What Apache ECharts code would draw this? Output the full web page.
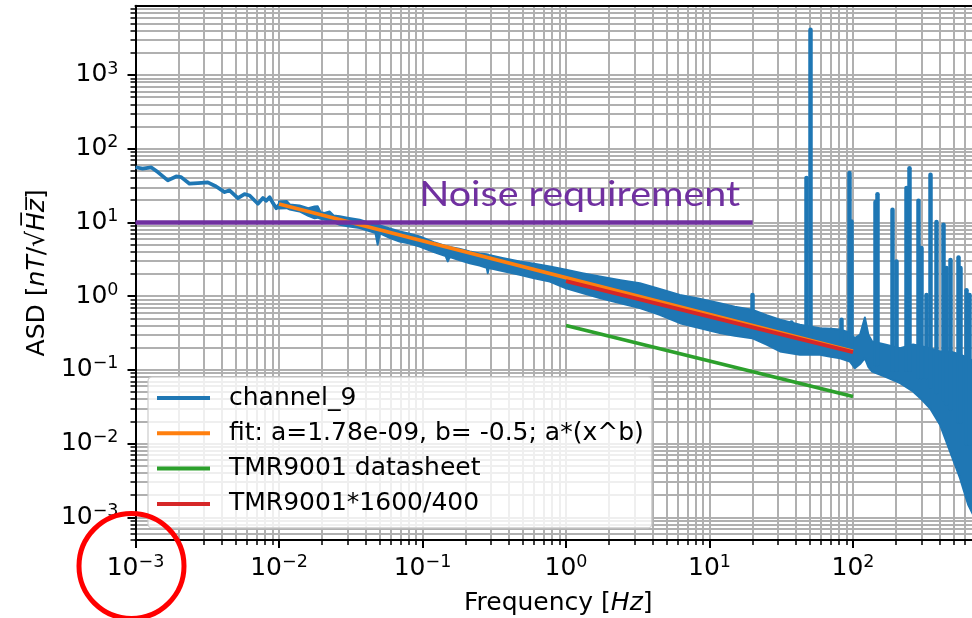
<!DOCTYPE html>
<html>
<head>
<meta charset="utf-8">
<script src="https://cdn.jsdelivr.net/npm/echarts@6/dist/echarts.min.js"></script>
<style>
  html, body { margin: 0; padding: 0; background: #ffffff; }
  #chart { width: 972px; height: 618px; }
</style>
</head>
<body>
<div id="chart"></div>
<script>
// channel_9 amplitude spectral density, nT/√Hz, below 10 mHz (sparse bins)
const lowFreq = [0.001, 0.00112, 0.00129, 0.00143, 0.00168, 0.00192, 0.00208, 0.00238, 0.00272, 0.00319,
  0.00365, 0.00418, 0.00452, 0.00517, 0.00575, 0.00624, 0.00713, 0.00773, 0.00815, 0.0086, 0.00907, 0.00957, 0.0101];
const lowAsd = [56, 53.6, 55.7, 48.2, 37.2, 42, 41.2, 33.5, 34.1, 34.9,
  30.7, 25.8, 27.2, 21.4, 24.2, 23.2, 17.9, 21.4, 19.7, 22, 18.3, 15.6, 17.7];

// channel_9 above 10 mHz: dense bins, kept as upper / lower envelope of the trace
const bandFreq = [0.0100, 0.0113, 0.0119, 0.0139, 0.0160, 0.0177, 0.0186, 0.0195, 0.0208, 0.0225,
  0.0240, 0.0265, 0.0300, 0.0365, 0.0420, 0.0470, 0.0487, 0.0505, 0.0600, 0.0693,
  0.0800, 0.0956, 0.120, 0.145, 0.150, 0.155, 0.180, 0.2134, 0.250, 0.280,
  0.285, 0.290, 0.360, 0.4763, 0.600, 0.771, 1.0, 1.30, 1.72, 2.4,
  3.27, 4.5, 6.22, 8.5, 11.8, 15.0, 19.8, 25.0, 31.0, 42.7,
  58.9, 70.0, 81.2, 95.0, 103, 112, 121, 128, 136, 167,
  213, 262, 300, 344, 404, 475, 557, 634, 800];
const bandUpper = [19.3, 19.6, 17.5, 17.0, 15.6, 16.5, 16.6, 13.8, 13.4, 14.1,
  12.4, 12.1, 11.6, 10.9, 10.0, 9.4, 9.3, 9.1, 8.2, 7.55,
  7.1, 6.46, 5.4, 4.8, 4.72, 4.65, 4.4, 4.04, 3.8, 3.7,
  3.68, 3.62, 3.3, 2.96, 2.75, 2.53, 2.28, 2.05, 1.85, 1.65,
  1.50, 1.25, 1.04, 0.92, 0.804, 0.72, 0.653, 0.55, 0.48, 0.409,
  0.368, 0.36, 0.353, 0.32, 0.269, 0.30, 0.514, 0.30, 0.243, 0.221,
  0.197, 0.221, 0.21, 0.197, 0.178, 0.178, 0.162, 0.144, 0.111];
const bandLower = [15.5, 15.6, 15.0, 14.1, 12.3, 11.4, 11.6, 11.2, 10.9, 10.6,
  10.0, 9.3, 8.9, 8.4, 7.7, 7.2, 5.0, 7.1, 6.1, 5.52,
  5.2, 4.72, 3.95, 3.5, 2.96, 3.4, 3.1, 2.80, 2.6, 2.42,
  2.05, 2.4, 2.2, 1.95, 1.75, 1.58, 1.28, 1.1, 0.94, 0.80,
  0.688, 0.56, 0.43, 0.37, 0.315, 0.29, 0.269, 0.22, 0.178, 0.160,
  0.160, 0.15, 0.144, 0.13, 0.1055, 0.12, 0.144, 0.11, 0.095, 0.0813,
  0.066, 0.0509, 0.040, 0.0302, 0.018, 0.0078, 0.0034, 0.00149, 0.0006];

// Narrow spectral lines (mains harmonics and others): frequency, foot, peak
const lineFreq = [20, 37.3, 47.2, 50, 83.3, 94.2, 97.9, 142, 147.7, 189,
  200, 234, 247, 285, 301, 326, 348, 379, 426, 450,
  475, 542, 560, 614, 650];
const lineFoot = [0.5, 0.3, 0.2, 0.2, 0.25, 0.15, 0.15, 0.12, 0.12, 0.1,
  0.1, 0.1, 0.1, 0.08, 0.08, 0.08, 0.06, 0.05, 0.04, 0.035,
  0.03, 0.02, 0.02, 0.01, 0.01];
const linePeak = [1.04, 0.44, 40, 4100, 0.48, 46.7, 10.3, 19, 24.2, 14.9,
  2.96, 29.2, 54.5, 19.7, 4.5, 1.04, 44.4, 10.1, 9.3, 2.4,
  3.1, 3.35, 2.4, 1.2, 1.04];

// Fit a*(x^b) with a = 1.78 nT, b = -0.5
const fitFreq = [0.01, 100];
const fitAsd = [17.8, 0.178];
// TMR9001 datasheet noise and the same scaled by 1600/400
const sheetFreq = [1, 100];
const sheetAsd = [0.4, 0.0435];
const scaledFreq = [1, 100];
const scaledAsd = [1.6, 0.174];
// Noise requirement level
const reqFreq = [0.001, 20];
const reqAsd = [10, 10];

// Axis ranges and decade ticks
const X_MIN = 0.001, X_MAX = 780;
const Y_MIN = 4.92e-4, Y_MAX = 8710;
const xMajor = [1e-3, 1e-2, 1e-1, 1, 10, 100];
const yMajor = [1e-3, 1e-2, 1e-1, 1, 10, 100, 1000];

const legendNames = ['channel_9', 'fit: a=1.78e-09, b= -0.5; a*(x^b)', 'TMR9001 datasheet', 'TMR9001*1600/400'];

const BLUE = '#1f77b4', ORANGE = '#ff7f0e', GREEN = '#2ca02c', RED = '#d62728', PURPLE = '#7030a0';
const FONT = 'DejaVu Sans';

function pairs(xs, ys) { return xs.map((x, i) => [x, ys[i]]); }

function minorValues(lo, hi) {
  const out = [];
  for (let e = Math.floor(Math.log10(lo)); e <= Math.ceil(Math.log10(hi)); e++) {
    for (let k = 2; k <= 9; k++) {
      const v = +(k * Math.pow(10, e)).toPrecision(6);
      if (v > lo && v < hi) out.push(v);
    }
  }
  return out;
}

function powLabel(v) {
  const e = Math.round(Math.log10(v));
  return '{b|10}{e|' + (e < 0 ? '\u2212' + (-e) : String(e)) + '}';
}

const tickRich = {
  b: { fontFamily: FONT, fontSize: 25, lineHeight: 30, color: '#000' },
  e: { fontFamily: FONT, fontSize: 17.5, lineHeight: 18, verticalAlign: 'top', color: '#000' }
};
const gridLine = { show: true, lineStyle: { color: '#b0b0b0', width: 2 } };
const nameStyle = {
  fontFamily: FONT, fontSize: 25, color: '#000',
  rich: { i: { fontFamily: FONT, fontSize: 25, fontStyle: 'italic', color: '#000' } }
};

function majorAxis(dim, vals, min, max) {
  return {
    type: 'log', logBase: 10, gridIndex: 0, min: min, max: max,
    position: dim === 'x' ? 'bottom' : 'left',
    axisLine: { show: true, onZero: false, lineStyle: { color: '#000', width: 2 } },
    axisTick: { show: true, length: 8, customValues: vals, lineStyle: { color: '#000', width: 2 } },
    axisLabel: {
      show: true, customValues: vals, margin: dim === 'x' ? 13 : 17,
      formatter: powLabel, rich: tickRich, hideOverlap: false
    },
    splitLine: gridLine,
    minorTick: { show: false }, minorSplitLine: { show: false }
  };
}

function minorAxis(dim, min, max) {
  return {
    type: 'log', logBase: 10, gridIndex: 0, min: min, max: max,
    position: dim === 'x' ? 'bottom' : 'left',
    axisLine: { show: false },
    axisTick: { show: true, length: 5, customValues: minorValues(min, max), lineStyle: { color: '#000', width: 1.5 } },
    axisLabel: { show: false },
    splitLine: gridLine
  };
}

const xMain = majorAxis('x', xMajor, X_MIN, X_MAX);
xMain.name = 'Frequency [{i|Hz}]';
xMain.nameLocation = 'middle';
xMain.nameGap = 51;
xMain.nameTextStyle = nameStyle;

const yMain = majorAxis('y', yMajor, Y_MIN, Y_MAX);
yMain.name = 'ASD [{i|nT}/\u221A{i|H\u0305z\u0305}]';
yMain.nameLocation = 'middle';
yMain.nameGap = 85;
yMain.nameTextStyle = nameStyle;

const xTop = {
  type: 'log', logBase: 10, gridIndex: 0, min: X_MIN, max: X_MAX, position: 'top',
  axisLine: { show: true, lineStyle: { color: '#000', width: 2 } },
  axisTick: { show: false }, axisLabel: { show: false }, splitLine: { show: false }
};

const chart = echarts.init(document.getElementById('chart'), null, { renderer: 'canvas' });

const option = {
  animation: false,
  backgroundColor: '#ffffff',
  grid: {
    left: 135.5, top: 5.7, width: 845.5, height: 534.3,
    containLabel: false, outerBoundsMode: 'none'
  },
  xAxis: [xMain, minorAxis('x', X_MIN, X_MAX), xTop],
  yAxis: [yMain, minorAxis('y', Y_MIN, Y_MAX)],
  legend: {
    show: true, orient: 'vertical', left: 148, top: 377,
    padding: [6, 8, 9, 9],
    itemWidth: 53, itemHeight: 4, itemGap: 5.3,
    icon: 'rect', selectedMode: false,
    backgroundColor: 'rgba(255,255,255,0.8)',
    borderColor: '#cccccc', borderWidth: 1.2, borderRadius: 4,
    textStyle: { fontFamily: FONT, fontSize: 25, color: '#000', lineHeight: 30, padding: [0, 0, 0, 14] },
    data: legendNames
  },
  series: [
    {
      name: legendNames[0], type: 'custom', coordinateSystem: 'cartesian2d',
      xAxisIndex: 0, yAxisIndex: 0, clip: true, silent: true, z: 2,
      itemStyle: { color: BLUE },
      data: [[bandFreq[0], bandUpper[0]]],
      encode: { x: 0, y: 1 },
      renderItem: function (params, api) {
        const pts = [];
        for (let i = 0; i < bandFreq.length; i++) pts.push(api.coord([bandFreq[i], bandUpper[i]]));
        for (let i = bandFreq.length - 1; i >= 0; i--) pts.push(api.coord([bandFreq[i], bandLower[i]]));
        return {
          type: 'polygon', shape: { points: pts },
          style: { fill: BLUE, stroke: BLUE, lineWidth: 2, lineJoin: 'round' }
        };
      }
    },
    {
      name: legendNames[0], type: 'line', xAxisIndex: 0, yAxisIndex: 0,
      data: pairs(lowFreq, lowAsd), symbol: 'none', silent: true, z: 2,
      itemStyle: { color: BLUE }, lineStyle: { color: BLUE, width: 3.75, join: 'round' }
    },
    {
      name: legendNames[0], type: 'lines', coordinateSystem: 'cartesian2d', xAxisIndex: 0, yAxisIndex: 0,
      silent: true, z: 2,
      data: lineFreq.map((f, i) => ({ coords: [[f, lineFoot[i]], [f, linePeak[i]]] })),
      lineStyle: { color: BLUE, width: 4.5, opacity: 1, cap: 'round' }
    },
    {
      name: legendNames[1], type: 'line', xAxisIndex: 0, yAxisIndex: 0,
      data: pairs(fitFreq, fitAsd), symbol: 'none', silent: true, z: 3,
      itemStyle: { color: ORANGE }, lineStyle: { color: ORANGE, width: 3.75 }
    },
    {
      name: legendNames[2], type: 'line', xAxisIndex: 0, yAxisIndex: 0,
      data: pairs(sheetFreq, sheetAsd), symbol: 'none', silent: true, z: 3,
      itemStyle: { color: GREEN }, lineStyle: { color: GREEN, width: 3.75 }
    },
    {
      name: legendNames[3], type: 'line', xAxisIndex: 0, yAxisIndex: 0,
      data: pairs(scaledFreq, scaledAsd), symbol: 'none', silent: true, z: 3,
      itemStyle: { color: RED }, lineStyle: { color: RED, width: 3.75 }
    },
    {
      name: 'Noise requirement', type: 'line', xAxisIndex: 0, yAxisIndex: 0,
      data: pairs(reqFreq, reqAsd), symbol: 'none', silent: true, z: 4,
      itemStyle: { color: PURPLE }, lineStyle: { color: PURPLE, width: 4.5, cap: 'butt' }
    }
  ]
};

chart.setOption(option);

// Annotation text above the requirement line and the highlight ring round the first x label
const finder = { xAxisIndex: 0, yAxisIndex: 0 };
const reqEnd = chart.convertToPixel(finder, [reqFreq[1], reqAsd[1]]);
const corner = chart.convertToPixel(finder, [X_MIN, Y_MIN]);
const reqText = 'Noise requirement';
const reqSize = 35;
const measure = document.createElement('canvas').getContext('2d');
measure.font = reqSize + 'px Lato';
const reqScale = 321 / measure.measureText(reqText).width;

chart.setOption({
  graphic: [
    {
      type: 'text', silent: true, z: 20,
      x: reqEnd[0] - 12.5, y: reqEnd[1] - 28, scaleX: reqScale,
      style: { text: reqText, fontFamily: 'Lato', fontSize: reqSize, fill: PURPLE, align: 'right', verticalAlign: 'middle' }
    },
    {
      type: 'circle', silent: true, z: 20,
      shape: { cx: corner[0] - 4, cy: corner[1] + 26, r: 52.5 },
      style: { fill: 'none', stroke: '#ff0000', lineWidth: 5 }
    }
  ]
});
</script>
</body>
</html>
